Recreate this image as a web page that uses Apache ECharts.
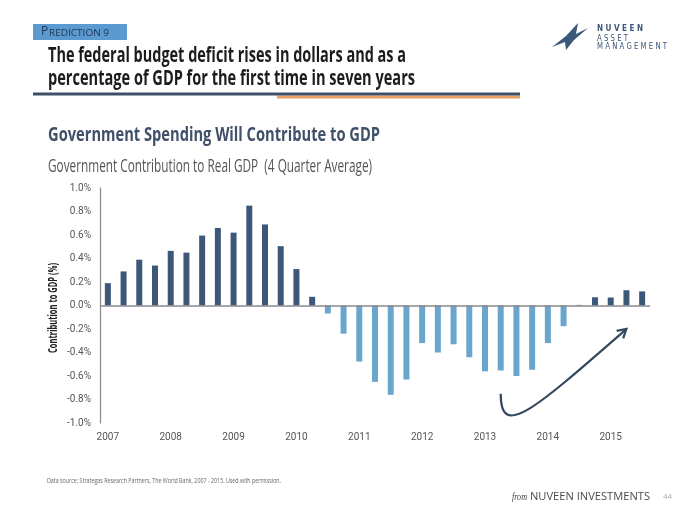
<!DOCTYPE html>
<html><head><meta charset="utf-8">
<script src="https://cdn.jsdelivr.net/npm/echarts@6/dist/echarts.min.js"></script>
<style>html,body{margin:0;padding:0;background:#fff}#c{width:700px;height:525px}</style>
</head><body><div id="c"></div>
<script>
const categories = [
  '2007 Q1','2007 Q2','2007 Q3','2007 Q4',
  '2008 Q1','2008 Q2','2008 Q3','2008 Q4',
  '2009 Q1','2009 Q2','2009 Q3','2009 Q4',
  '2010 Q1','2010 Q2','2010 Q3','2010 Q4',
  '2011 Q1','2011 Q2','2011 Q3','2011 Q4',
  '2012 Q1','2012 Q2','2012 Q3','2012 Q4',
  '2013 Q1','2013 Q2','2013 Q3','2013 Q4',
  '2014 Q1','2014 Q2','2014 Q3','2014 Q4',
  '2015 Q1','2015 Q2','2015 Q3'
];
const govContribution = [
  0.19, 0.29, 0.39, 0.34,
  0.465, 0.45, 0.595, 0.66,
  0.62, 0.85, 0.69, 0.505,
  0.31, 0.074, -0.068, -0.24,
  -0.477, -0.65, -0.76, -0.63,
  -0.32, -0.40, -0.33, -0.44,
  -0.56, -0.553, -0.60, -0.547,
  -0.32, -0.176, 0.005, 0.07,
  0.068, 0.13, 0.12
];
const yMin = -1.0, yMax = 1.0, yStep = 0.2;

const TICKFONT = 'Roboto';
const DARK = '#3b5878', LIGHT = '#69a5cd';

const chart = echarts.init(document.getElementById('c'), null, {renderer: 'canvas'});
chart.setOption({
  animation: false,
  backgroundColor: '#ffffff',
  grid: {left: 100, right: 50, top: 188, bottom: 102, containLabel: false},
  xAxis: {
    type: 'category', data: categories,
    axisLine: {show: false, onZero: false},
    axisTick: {show: false},
    axisLabel: {interval: 3, margin: 9, color: '#555', fontSize: 10, fontFamily: TICKFONT,
      formatter: v => v.slice(0, 4)}
  },
  yAxis: {
    type: 'value', min: yMin, max: yMax, interval: yStep,
    axisLine: {show: true, lineStyle: {color: '#888', width: 1.2}},
    axisTick: {show: false},
    splitLine: {show: false},
    axisLabel: {color: '#555', fontSize: 10, fontFamily: TICKFONT, margin: 9,
      formatter: v => v.toFixed(1) + '%'}
  },
  series: [{
    type: 'bar', data: govContribution, barWidth: 6,
    itemStyle: {color: p => p.value >= 0 ? DARK : LIGHT},
    markLine: {silent: true, symbol: 'none', label: {show: false},
      lineStyle: {color: '#888', width: 1.5, type: 'solid'}, data: [{yAxis: 0}]}
  }]
});

// text helper: fit text to a measured width using horizontal scale
const mctx = document.createElement('canvas').getContext('2d');
function fitText(text, font, x, y, width, fill, extra) {
  mctx.font = font;
  const w = mctx.measureText(text).width;
  return Object.assign({type: 'text', x: x, y: y, scaleX: width / w, originX: 0, originY: 0,
    style: {text: text, font: font, fill: fill, verticalAlign: 'middle', align: 'left'}}, extra || {});
}

// Annotation arrow (anchored in data space)
const P = (i, v) => chart.convertToPixel({gridIndex: 0}, [i, v]);
const a0 = P(24.5, -0.75), c1 = P(24.65, -1.14), c2 = P(27.3, -0.9), a1 = P(32.75, -0.2);
const dx = a1[0] - c2[0], dy = a1[1] - c2[1], L = Math.hypot(dx, dy);
const ux = dx / L, uy = dy / L, ah = 10, ang = Math.PI / 6;
const rot = (x, y, t) => [x * Math.cos(t) - y * Math.sin(t), x * Math.sin(t) + y * Math.cos(t)];
const h1 = rot(-ux, -uy, ang), h2 = rot(-ux, -uy, -ang);

const yName = fitText('Contribution to GDP (%)', 'bold 12.5px "Open Sans"', 0, 0, 90, '#222');
yName.style.align = 'center';
yName.x = 53; yName.y = 308; yName.rotation = Math.PI / 2; yName.originX = 0;

chart.setOption({graphic: [
  {type: 'rect', shape: {x: 33, y: 24, width: 94, height: 16}, style: {fill: '#5b9ad0'}},
  {type: 'text', x: 41, y: 32, style: {text: 'P', fill: '#1d3550', font: '12px "Open Sans"', verticalAlign: 'middle'}},
  fitText('REDICTION 9', '9.5px "Open Sans"', 49, 33, 60, '#1d3550'),
  fitText('The federal budget deficit rises in dollars and as a', 'bold 22px "Open Sans"', 48, 56, 358, '#1c1c1c'),
  fitText('percentage of GDP for the first time in seven years', 'bold 22px "Open Sans"', 48, 79, 367, '#1c1c1c'),
  {type: 'rect', shape: {x: 277, y: 95.5, width: 243, height: 3}, style: {fill: '#e9a064'}},
  {type: 'rect', shape: {x: 33, y: 92.5, width: 487, height: 3}, style: {fill: '#3e5068'}},
  {type: 'polygon', shape: {points: [[552,47],[566,36],[578,23],[576,34],[588,28],[574,40],[566,50],[565,42]]}, style: {fill: '#3b5878'}},
  fitText('N U V E E N', 'bold 8px "DejaVu Sans"', 597, 29, 46, '#3b5878'),
  fitText('A S S E T', '8px "DejaVu Sans"', 597, 38.5, 31, '#3b5878'),
  fitText('M A N A G E M E N T', '8px "DejaVu Sans"', 597, 47, 70, '#3b5878'),
  fitText('Government Spending Will Contribute to GDP', 'bold 20px "Open Sans"', 48, 135, 332, '#3f5068'),
  fitText('Government Contribution to Real GDP  (4 Quarter Average)', '18px "Open Sans"', 48, 167, 324, '#555'),
  yName,
  fitText('Data source: Strategas Research Partners, The World Bank, 2007 - 2015. Used with permission.', '7px "Open Sans"', 47, 481, 234, '#666'),
  fitText('from', 'italic 11px "Liberation Serif"', 512, 497, 15, '#444'),
  fitText('NUVEEN INVESTMENTS', '11px "Open Sans"', 530, 497, 120, '#4a4a4a'),
  {type: 'text', x: 663, y: 497, style: {text: '44', fill: '#aaa', font: '8px "Open Sans"', verticalAlign: 'middle'}},
  {type: 'bezierCurve', shape: {x1: a0[0], y1: a0[1], cpx1: c1[0], cpy1: c1[1], cpx2: c2[0], cpy2: c2[1], x2: a1[0], y2: a1[1]},
    style: {stroke: '#34495e', lineWidth: 2.2, fill: null}},
  {type: 'polyline', shape: {points: [[a1[0] + h1[0] * ah, a1[1] + h1[1] * ah], a1, [a1[0] + h2[0] * ah, a1[1] + h2[1] * ah]]},
    style: {stroke: '#34495e', lineWidth: 2.2, fill: null}}
]});
</script></body></html>
